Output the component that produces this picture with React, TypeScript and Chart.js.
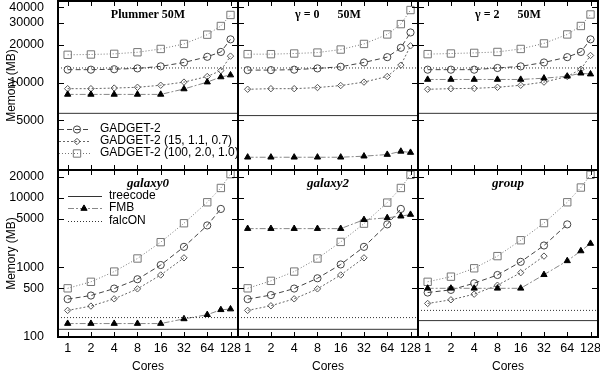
import React, { useEffect, useRef } from 'react';
import { Chart, registerables } from 'chart.js';

Chart.register(...registerables);

// ---------------- data ----------------
const cores = [1, 2, 4, 8, 16, 32, 64, 96, 128];
const coreTicks = [1, 2, 4, 8, 16, 32, 64, 128];
const topYTicks = [5000, 10000, 20000, 30000, 40000];
const bottomYTicks = [100, 500, 1000, 5000, 10000, 20000];

const panelTitles = ['Plummer 50M', 'γ = 0      50M', 'γ = 2      50M', 'galaxy0', 'galaxy2', 'group'];

const plummerGadget = [12700, 12700, 12800, 13000, 13500, 14500, 16100, 17600, 22200];
const plummerGadget15 = [8950, 8950, 9050, 9180, 9530, 10100, 11200, 12500, 16300];
const plummerGadget100 = [16700, 16800, 17000, 17500, 18600, 20400, 24200, 28400, 34800];
const plummerFmb = [8050, 8050, 8050, 8050, 8050, 8900, 10100, 11100, 11500];
const plummerTreecode = 5680;
const plummerFalcon = 13100;

const gamma0Gadget = [12600, 12600, 12700, 13000, 13400, 14500, 16000, 19000, 25200];
const gamma0Gadget15 = [8850, 8950, 8950, 9130, 9480, 10100, 11200, 13800, 19700];
const gamma0Gadget100 = [16900, 16900, 17100, 17400, 18400, 20400, 24300, 29400, 38100];
const gamma0Fmb = [2530, 2530, 2530, 2530, 2530, 2580, 2660, 2820, 2760];
const gamma0Treecode = 5450;
const gamma0Falcon = 13100;

const gamma2Gadget = [12700, 12700, 12700, 13100, 13500, 14500, 16000, 17600, 22200];
const gamma2Gadget15 = [8850, 8950, 9000, 9180, 9530, 10100, 11200, 12800, 16500];
const gamma2Gadget100 = [16900, 17100, 17300, 17600, 18600, 20600, 24300, 28400, 35100];
const gamma2Fmb = [10600, 10600, 10600, 10600, 10600, 10850, 11250, 11900, 11700];
const gamma2Treecode = 5680;
const gamma2Falcon = 13100;

const galaxy0Gadget = [350, 394, 496, 675, 1080, 1970, 4000, 6900, null];
const galaxy0Gadget15 = [241, 278, 353, 491, 777, 1370, null, null, null];
const galaxy0Gadget100 = [500, 620, 870, 1340, 2300, 4300, 8600, 13800, 21800];
const galaxy0Fmb = [156, 156, 156, 156, 156, 182, 209, 246, 252];
const galaxy0Treecode = 129;
const galaxy0Falcon = 190;

const galaxy2Gadget = [350, 400, 496, 697, 1100, 1970, 4140, 6900, null];
const galaxy2Gadget15 = [241, 281, 353, 491, 777, 1370, null, null, null];
const galaxy2Gadget100 = [500, 640, 870, 1340, 2320, 4240, 8500, 13800, 21300];
const galaxy2Fmb = [3600, 3600, 3600, 3600, 3600, 4830, 5150, 5430, 5740];
const galaxy2Treecode = 129;
const galaxy2Falcon = 190;

const groupGadget = [435, 475, 592, 777, 1200, 2060, 4140, null, null];
const groupGadget15 = [303, 342, 412, 554, 838, 1450, null, null, null];
const groupGadget100 = [620, 735, 970, 1450, 2450, 4320, 8600, 14000, 21300];
const groupFmb = [500, 500, 500, 500, 500, 784, 1240, 1720, 2200];
const groupTreecode = 172;
const groupFalcon = 241;

// ---------------- layout / style ----------------
const X_MIN = 0.75;
const X_MAX = 160;
const COL_X0 = [58, 238, 418];
const COL_X1 = [238, 418, 598];
const ROW_Y0 = [1, 170];
const ROW_Y1 = [170, 337];
const Y_RANGE = [
  [2000, 45000],
  [100, 25000],
];
const SANS = '"Liberation Sans", Arial, sans-serif';
const SERIF = '"Liberation Serif", "Times New Roman", serif';

type Series = (number | null)[];
type StyleKey = 'tree' | 'falcon' | 'g100' | 'g' | 'g15' | 'fmb';

const STY: Record<StyleKey, any> = {
  tree: { color: '#333', dash: [], point: null, r: 0 },
  falcon: { color: '#333', dash: [1, 2], point: null, r: 0 },
  g100: { color: '#777', dash: [1, 2], point: 'rect', r: 5.2, pointColor: '#777', fill: 'rgba(0,0,0,0)' },
  g: { color: '#444', dash: [5, 3], point: 'circle', r: 3.6, pointColor: '#444', fill: 'rgba(0,0,0,0)' },
  g15: { color: '#666', dash: [2, 2], point: 'rectRot', r: 3.2, pointColor: '#555', fill: 'rgba(0,0,0,0)' },
  fmb: { color: '#888', dash: [6, 2, 2, 2], point: 'triangle', r: 3.6, pointColor: '#000', fill: '#000' },
};

interface PanelDef {
  col: number;
  row: number;
  title: string;
  gadget: Series;
  gadget15: Series;
  gadget100: Series;
  fmb: Series;
  treecode: number;
  falcon: number;
  legend: { text: string; key: StyleKey }[] | null;
}

const gadgetLegend = [
  { text: 'GADGET-2', key: 'g' as StyleKey },
  { text: 'GADGET-2 (15, 1.1, 0.7)', key: 'g15' as StyleKey },
  { text: 'GADGET-2 (100, 2.0, 1.0)', key: 'g100' as StyleKey },
];
const codesLegend = [
  { text: 'treecode', key: 'tree' as StyleKey },
  { text: 'FMB', key: 'fmb' as StyleKey },
  { text: 'falcON', key: 'falcon' as StyleKey },
];

const panels: PanelDef[] = [
  { col: 0, row: 0, title: panelTitles[0], gadget: plummerGadget, gadget15: plummerGadget15, gadget100: plummerGadget100, fmb: plummerFmb, treecode: plummerTreecode, falcon: plummerFalcon, legend: gadgetLegend },
  { col: 1, row: 0, title: panelTitles[1], gadget: gamma0Gadget, gadget15: gamma0Gadget15, gadget100: gamma0Gadget100, fmb: gamma0Fmb, treecode: gamma0Treecode, falcon: gamma0Falcon, legend: null },
  { col: 2, row: 0, title: panelTitles[2], gadget: gamma2Gadget, gadget15: gamma2Gadget15, gadget100: gamma2Gadget100, fmb: gamma2Fmb, treecode: gamma2Treecode, falcon: gamma2Falcon, legend: null },
  { col: 0, row: 1, title: panelTitles[3], gadget: galaxy0Gadget, gadget15: galaxy0Gadget15, gadget100: galaxy0Gadget100, fmb: galaxy0Fmb, treecode: galaxy0Treecode, falcon: galaxy0Falcon, legend: codesLegend },
  { col: 1, row: 1, title: panelTitles[4], gadget: galaxy2Gadget, gadget15: galaxy2Gadget15, gadget100: galaxy2Gadget100, fmb: galaxy2Fmb, treecode: galaxy2Treecode, falcon: galaxy2Falcon, legend: null },
  { col: 2, row: 1, title: panelTitles[5], gadget: groupGadget, gadget15: groupGadget15, gadget100: groupGadget100, fmb: groupFmb, treecode: groupTreecode, falcon: groupFalcon, legend: null },
];

const toPts = (ys: Series) =>
  cores
    .map((x, i) => (ys[i] == null ? null : { x, y: ys[i] as number }))
    .filter((p) => p !== null) as { x: number; y: number }[];

const hLine = (v: number) => [
  { x: X_MIN, y: v },
  { x: X_MAX, y: v },
];

function makeDataset(label: string, data: { x: number; y: number }[], key: StyleKey) {
  const s = STY[key];
  return {
    label,
    data,
    showLine: true,
    borderColor: s.color,
    borderWidth: 1,
    borderDash: s.dash,
    fill: false,
    tension: 0,
    pointStyle: s.point || 'circle',
    pointRadius: s.point ? s.r : 0,
    pointHoverRadius: s.point ? s.r : 0,
    pointBorderColor: s.pointColor || s.color,
    pointBackgroundColor: s.fill || 'rgba(0,0,0,0)',
    pointBorderWidth: 1,
  };
}

function drawMarker(ctx: CanvasRenderingContext2D, key: StyleKey, x: number, y: number) {
  const s = STY[key];
  if (!s.point) return;
  const r = s.r;
  ctx.save();
  ctx.setLineDash([]);
  ctx.lineWidth = 1;
  ctx.strokeStyle = s.pointColor;
  ctx.fillStyle = s.fill;
  ctx.beginPath();
  if (s.point === 'circle') {
    ctx.arc(x, y, r, 0, Math.PI * 2);
  } else if (s.point === 'rect') {
    const h = r * Math.SQRT1_2;
    ctx.rect(x - h, y - h, 2 * h, 2 * h);
  } else if (s.point === 'rectRot') {
    ctx.moveTo(x, y - r);
    ctx.lineTo(x + r, y);
    ctx.lineTo(x, y + r);
    ctx.lineTo(x - r, y);
    ctx.closePath();
  } else if (s.point === 'triangle') {
    let rad = 0;
    ctx.moveTo(x + Math.sin(rad) * r, y - Math.cos(rad) * r);
    rad += (2 * Math.PI) / 3;
    ctx.lineTo(x + Math.sin(rad) * r, y - Math.cos(rad) * r);
    rad += (2 * Math.PI) / 3;
    ctx.lineTo(x + Math.sin(rad) * r, y - Math.cos(rad) * r);
    ctx.closePath();
  }
  ctx.fill();
  ctx.stroke();
  ctx.restore();
}

const decorPlugin = {
  id: 'panelDecor',
  afterDraw(chart: any, _args: any, opts: any) {
    const { ctx, chartArea } = chart;
    const { left, right, top, bottom } = chartArea;
    const xs = chart.scales.x;
    const ys = chart.scales.y;
    ctx.save();
    ctx.setLineDash([]);
    ctx.strokeStyle = '#000';
    ctx.lineWidth = 1;
    ctx.beginPath();
    for (const v of coreTicks) {
      const px = Math.round(xs.getPixelForValue(v)) + 0.5;
      ctx.moveTo(px, top);
      ctx.lineTo(px, top + 5);
      ctx.moveTo(px, bottom);
      ctx.lineTo(px, bottom - 5);
    }
    for (const v of opts.yTicks) {
      const py = Math.round(ys.getPixelForValue(v)) + 0.5;
      ctx.moveTo(left, py);
      ctx.lineTo(left + 6, py);
      ctx.moveTo(right, py);
      ctx.lineTo(right - 6, py);
    }
    ctx.stroke();
    ctx.lineWidth = 2;
    ctx.strokeRect(left, top, right - left, bottom - top);

    // panel title
    ctx.fillStyle = '#000';
    ctx.font = opts.italic ? `italic bold 13px ${SERIF}` : `bold 12px ${SERIF}`;
    ctx.textAlign = 'center';
    ctx.textBaseline = 'middle';
    ctx.fillText(opts.title, (left + right) / 2, top + opts.titleDy);

    // legend
    if (opts.legend) {
      const L = opts.legendLayout;
      ctx.font = `12px ${SANS}`;
      ctx.textAlign = 'left';
      opts.legend.forEach((item: any, i: number) => {
        const y = top + L.y0 + i * L.dy;
        const s = STY[item.key as StyleKey];
        ctx.save();
        ctx.strokeStyle = s.color;
        ctx.lineWidth = 1;
        ctx.setLineDash(s.dash);
        ctx.beginPath();
        ctx.moveTo(left + L.x0, Math.round(y) + 0.5);
        ctx.lineTo(left + L.x1, Math.round(y) + 0.5);
        ctx.stroke();
        ctx.restore();
        drawMarker(ctx, item.key, left + L.xm, Math.round(y) + 0.5);
        ctx.fillStyle = '#000';
        ctx.fillText(item.text, left + L.xt, y);
      });
    }
    ctx.restore();
  },
};

function PanelChart({ p }: { p: PanelDef }) {
  const ref = useRef<HTMLCanvasElement | null>(null);
  useEffect(() => {
    if (!ref.current) return;
    const yTicks = p.row === 0 ? topYTicks : bottomYTicks;
    const [yMin, yMax] = Y_RANGE[p.row];
    const showX = p.row === 1;
    const showY = p.col === 0;
    const datasets = [
      makeDataset('treecode', hLine(p.treecode), 'tree'),
      makeDataset('falcON', hLine(p.falcon), 'falcon'),
      makeDataset('FMB', toPts(p.fmb), 'fmb'),
      makeDataset('GADGET-2', toPts(p.gadget), 'g'),
      makeDataset('GADGET-2 (15, 1.1, 0.7)', toPts(p.gadget15), 'g15'),
      makeDataset('GADGET-2 (100, 2.0, 1.0)', toPts(p.gadget100), 'g100'),
    ];
    const chart = new Chart(ref.current, {
      type: 'scatter',
      data: { datasets } as any,
      plugins: [decorPlugin as any],
      options: {
        responsive: false,
        animation: false,
        events: [],
        layout: {
          autoPadding: false,
          padding: {
            left: showY ? 0 : COL_X0[p.col],
            right: 600 - COL_X1[p.col],
            top: ROW_Y0[p.row],
            bottom: showX ? 0 : 372 - ROW_Y1[p.row],
          },
        },
        scales: {
          x: {
            type: 'logarithmic',
            bounds: 'data',
            min: X_MIN,
            max: X_MAX,
            display: showX,
            afterBuildTicks: (s: any) => {
              s.ticks = coreTicks.map((v) => ({ value: v }));
            },
            afterFit: (s: any) => {
              s.height = showX ? 372 - ROW_Y1[1] : 0;
              s.paddingLeft = 0;
              s.paddingRight = 0;
              s.paddingTop = 0;
              s.paddingBottom = 0;
            },
            grid: { display: false, drawTicks: false },
            border: { display: false },
            ticks: {
              autoSkip: false,
              maxRotation: 0,
              minRotation: 0,
              padding: 4,
              color: '#000',
              font: { family: SANS, size: 12.5 },
              callback: (v: any) => String(v),
            },
            title: {
              display: true,
              text: 'Cores',
              color: '#000',
              font: { family: SANS, size: 12, lineHeight: 1 },
              padding: { top: 0, bottom: -1 },
            },
          },
          y: {
            type: 'logarithmic',
            bounds: 'data',
            min: yMin,
            max: yMax,
            display: showY,
            afterBuildTicks: (s: any) => {
              s.ticks = yTicks.map((v) => ({ value: v }));
            },
            afterFit: (s: any) => {
              s.width = showY ? COL_X0[0] : 0;
              s.paddingTop = 0;
              s.paddingBottom = 0;
              s.paddingLeft = 0;
              s.paddingRight = 0;
            },
            grid: { display: false, drawTicks: false },
            border: { display: false },
            ticks: {
              padding: 14,
              color: '#000',
              font: { family: SANS, size: 12.5 },
              callback: (v: any) => String(v),
            },
            title: {
              display: true,
              text: 'Memory (MB)',
              color: '#000',
              font: { family: SANS, size: 12, lineHeight: 1.2 },
              padding: { top: 4, bottom: 0 },
            },
          },
        },
        plugins: {
          legend: { display: false },
          tooltip: { enabled: false },
          panelDecor: {
            yTicks,
            title: p.title,
            italic: p.row === 1,
            titleDy: p.row === 0 ? 14 : 13.5,
            legend: p.legend,
            legendLayout:
              p.row === 0
                ? { y0: 127.5, dy: 12.3, x0: 1, x1: 33, xm: 19, xt: 42 }
                : { y0: 25.5, dy: 12.5, x0: 10, x1: 44, xm: 26, xt: 51 },
          },
        } as any,
      } as any,
    });
    return () => chart.destroy();
  }, [p]);
  return (
    <canvas
      ref={ref}
      width={600}
      height={372}
      style={{ position: 'absolute', left: 0, top: 0, width: 600, height: 372 }}
    />
  );
}

export default function App() {
  return (
    <div style={{ position: 'absolute', left: 0, top: 0, width: 600, height: 372, background: '#fff', overflow: 'hidden' }}>
      {panels.map((p, i) => (
        <PanelChart key={i} p={p} />
      ))}
    </div>
  );
}
